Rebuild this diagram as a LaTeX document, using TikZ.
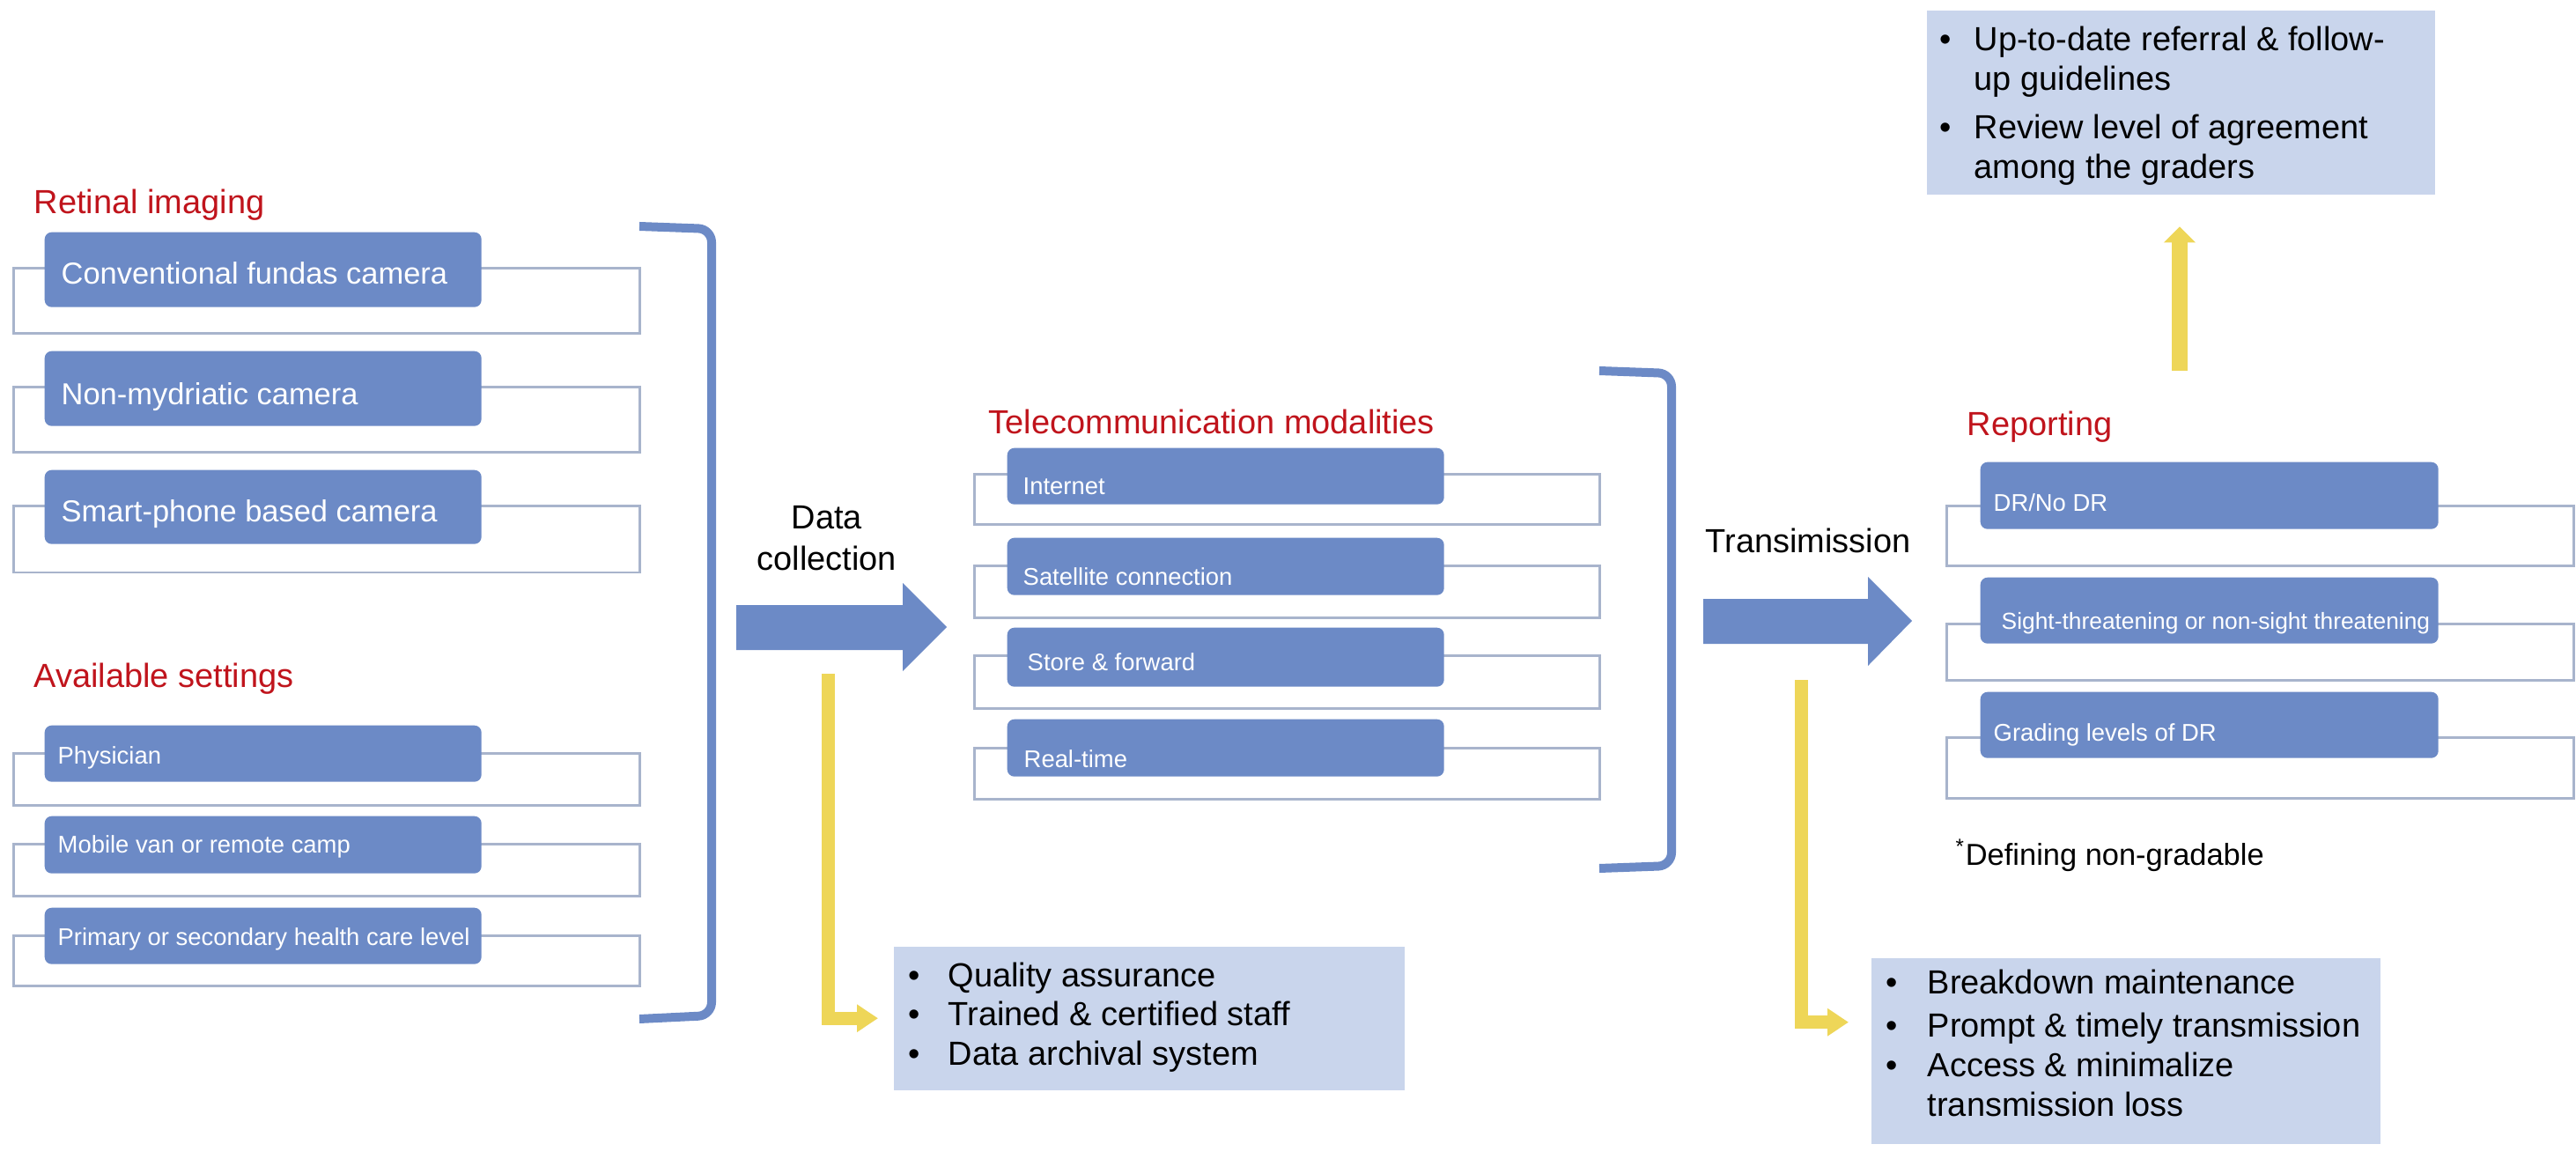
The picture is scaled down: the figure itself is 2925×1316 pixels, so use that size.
\documentclass[tikz,border=0pt]{standalone}
\usepackage{fontspec}
\setmainfont{Liberation Sans}
\usepackage{xcolor}
\usetikzlibrary{positioning,arrows.meta}

\definecolor{boxblue}{RGB}{108,138,198}
\definecolor{paleblue}{RGB}{201,213,236}
\definecolor{outline}{RGB}{168,180,204}
\definecolor{headred}{RGB}{192,20,28}
\definecolor{flowyellow}{RGB}{238,214,88}

\newcommand{\fntL}{\fontsize{10.8}{12.8}\selectfont}
\newcommand{\fntM}{\fontsize{9.8}{11.8}\selectfont}
\newcommand{\fntS}{\fontsize{7.8}{9.4}\selectfont}
\newcommand{\bul}[1]{\makebox[#1][l]{\textbullet}}

\tikzset{
    outerbox/.style={draw=outline, line width=0.3mm, fill=white},
    bluebox/.style={fill=boxblue, rounded corners=0.8mm, inner sep=0pt, anchor=north west},
    boxtextM/.style={text=white, font=\fntM, inner sep=0pt, anchor=base west},
    boxtextS/.style={text=white, font=\fntS, inner sep=0pt, anchor=base west},
    header/.style={text=headred, font=\fntL, inner sep=0pt, anchor=base west},
    plainlabel/.style={font=\fntL, inner sep=0pt},
    notebox/.style={fill=paleblue, inner sep=0pt, anchor=north west},
    notetext/.style={font=\fntL, inner sep=0pt, anchor=base west, align=left},
    bigarrow/.style={fill=boxblue},
    bracketline/.style={draw=boxblue, line width=1mm, rounded corners=1.5mm},
    yellowarrow/.style={draw=flowyellow, line width=1.5mm, -{Triangle[width=3mm,length=2.4mm]}}
}

\begin{document}
\begin{tikzpicture}[x=0.1mm, y=-0.1mm]
    \fill[white] (0,0) rectangle (2925,1316);
    \useasboundingbox (0,0) rectangle (2925,1316);

    % Retinal imaging
    \node[header] (retinal) at (38,243) {Retinal imaging};
    \draw[outerbox] (15,305) rectangle (726,379);
    \node[bluebox, minimum width=49.6mm, minimum height=8.5mm] (ri1) at (50,263) {};
    \node[boxtextM] (ri1t) at (69,323) {Conventional fundas camera};
    \draw[outerbox] (15,440) rectangle (726,514);
    \node[bluebox, minimum width=49.6mm, minimum height=8.5mm] (ri2) at (50,398) {};
    \node[boxtextM] (ri2t) at (69,460) {Non-mydriatic camera};
    \draw[outerbox] (15,575) rectangle (726,650);
    \node[bluebox, minimum width=49.6mm, minimum height=8.4mm] (ri3) at (50,533) {};
    \node[boxtextM] (ri3t) at (69,593) {Smart-phone based camera};

    % Available settings
    \node[header] (settings) at (38,780) {Available settings};
    \draw[outerbox] (15,855) rectangle (726,914);
    \node[bluebox, minimum width=49.6mm, minimum height=6.4mm] (as1) at (50,823) {};
    \node[boxtextS] (as1t) at (65,867) {Physician};
    \draw[outerbox] (15,958) rectangle (726,1017);
    \node[bluebox, minimum width=49.6mm, minimum height=6.5mm] (as2) at (50,926) {};
    \node[boxtextS] (as2t) at (65,968) {Mobile van or remote camp};
    \draw[outerbox] (15,1062) rectangle (726,1119);
    \node[bluebox, minimum width=49.6mm, minimum height=6.4mm] (as3) at (50,1030) {};
    \node[boxtextS] (as3t) at (65,1073) {Primary or secondary health care level};

    % left bracket
    \draw[bracketline] (726,257) -- (808,260) -- (808,1153) -- (726,1157);

    % Data collection
    \node[plainlabel, anchor=base] (dc1) at (939,601) {Data};
    \node[plainlabel, anchor=base] (dc2) at (939,647) {collection};
    \fill[bigarrow] (836,687) -- (1025,687) -- (1025,662) -- (1075,712) -- (1025,762) -- (1025,738) -- (836,738) -- cycle;

    % Telecommunication modalities
    \node[header] (telecom) at (1122,493) {Telecommunication modalities};
    \draw[outerbox] (1106,539) rectangle (1816,596);
    \node[bluebox, minimum width=49.6mm, minimum height=6.4mm] (tm1) at (1143,508) {};
    \node[boxtextS] (tm1t) at (1161,562) {Internet};
    \draw[outerbox] (1106,643) rectangle (1816,701);
    \node[bluebox, minimum width=49.6mm, minimum height=6.5mm] (tm2) at (1143,610) {};
    \node[boxtextS] (tm2t) at (1161,665) {Satellite connection};
    \draw[outerbox] (1106,744) rectangle (1816,804);
    \node[bluebox, minimum width=49.6mm, minimum height=6.7mm] (tm3) at (1143,712) {};
    \node[boxtextS] (tm3t) at (1166,761) {Store \& forward};
    \draw[outerbox] (1106,849) rectangle (1816,907);
    \node[bluebox, minimum width=49.6mm, minimum height=6.5mm] (tm4) at (1143,816) {};
    \node[boxtextS] (tm4t) at (1162,871) {Real-time};

    % middle bracket
    \draw[bracketline] (1816,421) -- (1898,424) -- (1898,983) -- (1816,986);

    % Transimission
    \node[plainlabel, anchor=base west] (trans) at (1936,628) {Transimission};
    \fill[bigarrow] (1934,680) -- (2121,680) -- (2121,655) -- (2171,705) -- (2121,756) -- (2121,731) -- (1934,731) -- cycle;

    % Reporting
    \node[header] (report) at (2233,495) {Reporting};
    \draw[outerbox] (2210,575) rectangle (2922,643);
    \node[bluebox, minimum width=52mm, minimum height=7.6mm] (rp1) at (2248,524) {};
    \node[boxtextS] (rp1t) at (2263,581) {DR/No DR};
    \draw[outerbox] (2210,708) rectangle (2922,772);
    \node[bluebox, minimum width=52mm, minimum height=7.5mm] (rp2) at (2248,655) {};
    \node[boxtextS, font=\fontsize{7.5}{9}\selectfont] (rp2t) at (2272,714) {Sight-threatening or non-sight threatening};
    \draw[outerbox] (2210,837) rectangle (2922,906);
    \node[bluebox, minimum width=52mm, minimum height=7.5mm] (rp3) at (2248,785) {};
    \node[boxtextS] (rp3t) at (2263,841) {Grading levels of DR};
    \node[font=\fntM, inner sep=0pt, anchor=base west] (nongrad) at (2220,982) {\textsuperscript{*}Defining non-gradable};

    % Note boxes
    \node[notebox, minimum width=58mm, minimum height=16.3mm] (qbox) at (1014,1074) {};
    \node[notetext] (qboxt) at (1031,1120) {\begin{tabular}[t]{@{}l@{}l@{}}
        \bul{4.5mm} & Quality assurance\\
        \bul{4.5mm} & Trained \& certified staff\\
        \bul{4.5mm} & Data archival system
    \end{tabular}};
    \node[notebox, minimum width=57.8mm, minimum height=21.1mm] (tbox) at (2124,1087) {};
    \node[notetext] (tboxt) at (2141,1128) {\begin{tabular}[t]{@{}l@{}l@{}}
        \bul{4.7mm} & Breakdown maintenance\\[0.5mm]
        \bul{4.7mm} & Prompt \& timely transmission\\
        \bul{4.7mm} & Access \& minimalize\\
         & transmission loss
    \end{tabular}};
    \node[notebox, minimum width=57.7mm, minimum height=20.9mm] (rbox) at (2187,11) {};
    \node[notetext] (rboxt) at (2202,58) {\begin{tabular}[t]{@{}l@{}l@{}}
        \bul{3.9mm} & Up-to-date referral \& follow-\\
         & up guidelines\\[1mm]
        \bul{3.9mm} & Review level of agreement\\
         & among the graders
    \end{tabular}};

    % Yellow arrows
    \coordinate (y1top) at (940,765);
    \coordinate (y2top) at (2045,772);
    \coordinate (y3bot) at (2475,421);
    \draw[yellowarrow, shorten >=1.7mm] (y1top) |- (qbox.west);
    \draw[yellowarrow, shorten >=2.5mm] (y2top) |- ([yshift=3.25mm]tbox.west);
    \draw[yellowarrow, line width=1.8mm, -{Triangle[width=3.5mm,length=1.8mm]}, shorten >=3.6mm] (y3bot) -- (y3bot |- rbox.south);
\end{tikzpicture}
\end{document}
